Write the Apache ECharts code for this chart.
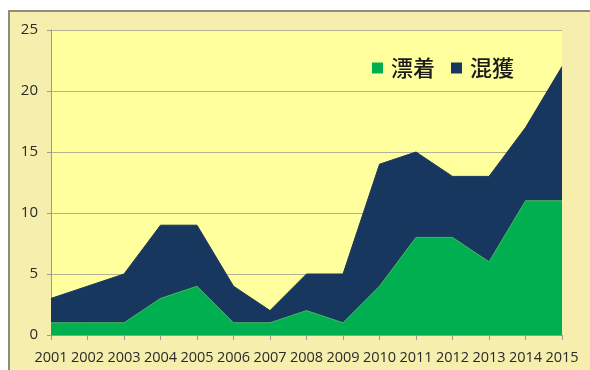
<!DOCTYPE html>
<html><head><meta charset="utf-8">
<script src="https://cdn.jsdelivr.net/npm/echarts@6/dist/echarts.min.js"></script>
<style>
html,body{margin:0;padding:0;background:#fff;}
#frame{position:absolute;left:8px;top:10px;width:590px;height:370px;background:#F6EEAD;border-left:2px solid #8E8C7C;border-top:2px solid #8E8C7C;}
#c{position:absolute;left:0;top:0;width:590px;height:370px;}
</style></head>
<body>
<div id="frame"></div>
<div id="c"></div>
<script>
const years = ['2001','2002','2003','2004','2005','2006','2007','2008','2009','2010','2011','2012','2013','2014','2015'];
const drift = [1,1,1,3,4,1,1,2,1,4,8,8,6,11,11];     // 漂着
const bycatch = [2,3,4,6,5,3,1,3,4,10,7,5,7,6,11];   // 混獲
const yTicks = [0,5,10,15,20,25];

const chart = echarts.init(document.getElementById('c'));
chart.setOption({
  animation:false,
  backgroundColor:'transparent',
  textStyle:{fontFamily:'Open Sans'},
  grid:{left:51,right:28,top:30,bottom:35,show:true,backgroundColor:'#FFFF9E',borderWidth:0},
  legend:{
    data:['漂着','混獲'],
    left:367, top:52,
    itemWidth:11,itemHeight:11,itemGap:16,
    icon:'rect',
    textStyle:{fontFamily:'Noto Sans CJK JP',fontSize:22,fontWeight:500,color:'#1a1a1a',padding:[0,0,0,3]}
  },
  xAxis:{
    type:'category',data:years,boundaryGap:false,
    axisLine:{lineStyle:{color:'#9A9A88',width:1}},
    axisTick:{show:true,alignWithLabel:true,length:5,lineStyle:{color:'#9A9A88'}},
    axisLabel:{color:'#2a2a2a',fontSize:14.5,margin:15,interval:0,fontFamily:'Open Sans',letterSpacing:-0.5}
  },
  yAxis:{
    type:'value',min:yTicks[0],max:yTicks[yTicks.length-1],interval:5,
    axisLine:{show:true,lineStyle:{color:'#9A9A88'}},
    axisTick:{show:true,length:4,lineStyle:{color:'#9A9A88'}},
    axisLabel:{color:'#2a2a2a',fontSize:15,margin:13},
    splitLine:{lineStyle:{color:'#B5B28E',width:1}}
  },
  series:[
    {name:'漂着',type:'line',stack:'t',data:drift,symbol:'none',
     itemStyle:{color:'#00B050'},lineStyle:{width:1,color:'#3CB55A'},areaStyle:{color:'#00B050',opacity:1}},
    {name:'混獲',type:'line',stack:'t',data:bycatch,symbol:'none',
     itemStyle:{color:'#17375E'},lineStyle:{width:1,color:'#17375E'},areaStyle:{color:'#17375E',opacity:1}}
  ]
});
</script>
</body></html>
